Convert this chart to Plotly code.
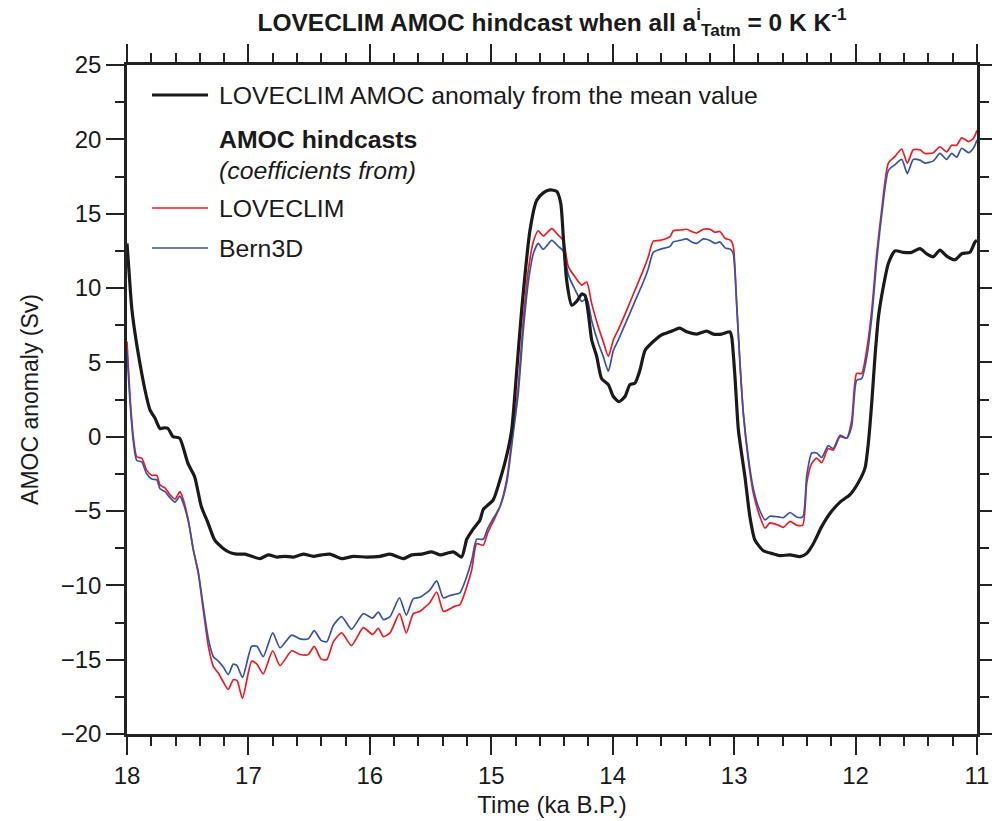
import plotly.graph_objects as go

# ---------------- data ----------------
# LOVECLIM AMOC anomaly from the mean value (black)
t_model = [18.0, 17.99, 17.962, 17.934, 17.893, 17.852, 17.811, 17.77, 17.728, 17.69, 17.662,
           17.621, 17.567, 17.498, 17.443, 17.388, 17.333, 17.278, 17.21, 17.15, 17.097,
           17.028, 16.973, 16.905, 16.836, 16.767, 16.7, 16.63, 16.548, 16.466, 16.397,
           16.328, 16.232, 16.136, 16.026, 15.916, 15.834, 15.725, 15.655, 15.573, 15.491,
           15.422, 15.313, 15.244, 15.202, 15.148, 15.093, 15.066, 14.984, 14.928, 14.88,
           14.832, 14.79, 14.75, 14.681, 14.626, 14.572, 14.517, 14.461, 14.428, 14.407,
           14.379, 14.338, 14.297, 14.255, 14.228, 14.201, 14.173, 14.132, 14.091, 14.036,
           13.995, 13.948, 13.899, 13.858, 13.817, 13.775, 13.734, 13.666, 13.597, 13.528,
           13.487, 13.446, 13.391, 13.308, 13.226, 13.172, 13.103, 13.034, 13.02, 12.993,
           12.965, 12.911, 12.87, 12.829, 12.76, 12.691, 12.622, 12.54, 12.458, 12.402,
           12.348, 12.279, 12.21, 12.128, 12.046, 11.978, 11.922, 11.895, 11.867, 11.84,
           11.811, 11.771, 11.73, 11.675, 11.606, 11.538, 11.47, 11.414, 11.36, 11.305,
           11.25, 11.182, 11.126, 11.058, 11.016, 11.0]
amoc_model = [13.0, 11.9, 8.75, 6.95, 4.9, 3.15, 1.8, 1.25, 0.55, 0.6, 0.55,
              0.0, -0.1, -1.8, -2.7, -4.7, -5.8, -6.95, -7.5, -7.8, -7.9,
              -7.9, -8.05, -8.2, -7.95, -8.1, -8.05, -8.1, -7.9, -8.05, -7.95,
              -7.9, -8.2, -8.05, -8.1, -8.05, -7.9, -8.2, -7.95, -7.9, -7.75,
              -7.95, -7.75, -8.1, -6.9, -6.2, -5.6, -4.9, -4.25, -2.9, -1.5,
              0.45, 4.5, 8.5, 13.9, 15.9, 16.4, 16.6, 16.5, 15.7, 13.45,
              10.5, 8.85, 9.1, 9.6, 9.5, 8.3, 6.5, 5.4, 3.9, 3.5,
              2.7, 2.35, 2.7, 3.5, 3.6, 4.5, 5.8, 6.4, 6.85, 7.05,
              7.2, 7.3, 7.05, 6.9, 7.1, 6.9, 6.9, 7.05, 6.7, 4.0,
              0.45, -2.7, -5.4, -6.95, -7.67, -7.85, -8.0, -7.95, -8.07, -7.85,
              -7.2, -6.05, -5.15, -4.4, -3.9, -3.1, -2.1, -0.45, 2.25, 5.4,
              8.1, 10.1, 11.65, 12.5, 12.4, 12.4, 12.65, 12.3, 12.1, 12.55,
              12.15, 11.9, 12.3, 12.4, 13.1, 13.2]

# AMOC hindcasts (coefficients from LOVECLIM: red, Bern3D: blue)
t_hind = [18.0, 17.975, 17.948, 17.92, 17.879, 17.838, 17.797, 17.755, 17.728, 17.687,
          17.646, 17.605, 17.564, 17.536, 17.495, 17.454, 17.413, 17.372, 17.33, 17.289,
          17.248, 17.207, 17.166, 17.125, 17.094, 17.049, 16.973, 16.93, 16.878, 16.8,
          16.74, 16.644, 16.575, 16.507, 16.458, 16.402, 16.355, 16.301, 16.232, 16.151,
          16.054, 15.978, 15.93, 15.889, 15.834, 15.756, 15.7, 15.642, 15.587, 15.505,
          15.449, 15.395, 15.346, 15.299, 15.258, 15.202, 15.161, 15.12, 15.066, 15.031,
          14.984, 14.928, 14.873, 14.818, 14.778, 14.736, 14.695, 14.654, 14.613, 14.572,
          14.502, 14.448, 14.407, 14.366, 14.311, 14.255, 14.214, 14.173, 14.119, 14.078,
          14.036, 13.995, 13.954, 13.885, 13.817, 13.748, 13.707, 13.666, 13.611, 13.528,
          13.501, 13.446, 13.391, 13.35, 13.308, 13.254, 13.199, 13.158, 13.117, 13.075,
          13.028, 13.007, 12.979, 12.951, 12.924, 12.883, 12.842, 12.787, 12.745, 12.706,
          12.636, 12.595, 12.54, 12.485, 12.435, 12.402, 12.361, 12.32, 12.279, 12.225,
          12.184, 12.128, 12.073, 12.032, 11.991, 11.95, 11.909, 11.867, 11.826, 11.785,
          11.73, 11.675, 11.62, 11.574, 11.525, 11.47, 11.428, 11.36, 11.305, 11.25,
          11.208, 11.167, 11.126, 11.07, 11.03, 11.0]
amoc_loveclim = [6.4, 2.7, 0.0, -1.35, -1.45, -2.25, -2.6, -2.6, -3.25, -3.45,
                 -3.9, -4.2, -3.7, -4.25, -5.6, -7.6, -9.2, -11.65, -14.1, -15.45,
                 -15.9, -16.5, -17.0, -16.35, -16.4, -17.6, -15.1, -15.3, -15.95, -14.4,
                 -15.4, -14.4, -14.65, -14.65, -14.1, -14.95, -15.0, -13.8, -13.2, -14.05,
                 -12.85, -13.3, -12.9, -13.45, -13.2, -11.9, -13.2, -11.9, -11.75, -11.15,
                 -10.45, -11.75, -11.6, -11.4, -11.3, -10.1, -8.95, -7.2, -7.3, -6.5,
                 -5.7, -4.7, -2.9, 0.67, 3.35, 7.85, 11.2, 13.1, 13.85, 13.5,
                 14.0, 13.55, 13.2, 11.45, 10.75, 10.2, 10.4, 8.95, 7.4, 6.4,
                 5.4, 6.5, 7.2, 8.5, 9.85, 11.2, 12.1, 13.15, 13.2, 13.45,
                 13.85, 13.9, 13.95, 13.8, 13.7, 13.95, 13.95, 13.75, 13.8, 13.35,
                 13.2, 12.8, 9.0, 4.8, 1.5, -1.6, -3.8, -5.4, -6.15, -5.8,
                 -5.95, -6.1, -5.7, -5.95, -5.95, -3.1, -1.8, -1.45, -1.75, -0.8,
                 -0.9, 0.0, -0.1, 1.1, 4.25, 4.25, 5.8, 8.5, 12.3, 15.25,
                 18.4, 18.85, 19.35, 18.4, 19.3, 19.3, 19.05, 19.1, 19.5, 19.15,
                 19.6, 19.6, 20.1, 19.85, 20.05, 20.6]
amoc_bern3d = [5.7, 2.3, -0.3, -1.6, -1.7, -2.5, -2.85, -2.9, -3.5, -3.7,
               -4.1, -4.4, -4.0, -4.5, -5.7, -7.6, -9.1, -11.4, -13.6, -14.8,
               -15.1, -15.5, -16.0, -15.3, -15.4, -16.2, -14.1, -14.1, -14.8, -13.2,
               -14.2, -13.35, -13.6, -13.6, -13.05, -13.7, -13.8, -12.7, -12.1, -12.95,
               -11.9, -12.2, -11.8, -12.3, -12.1, -10.85, -12.0, -10.9, -10.8, -10.3,
               -9.7, -10.85, -10.7, -10.6, -10.5, -9.4, -8.3, -6.9, -6.9, -6.2,
               -5.5, -4.7, -3.1, 0.3, 2.9, 7.2, 10.4, 12.3, 13.0, 12.6,
               13.2, 12.8, 12.5, 10.9, 9.9, 9.1, 9.3, 7.8, 6.3, 5.4,
               4.4, 5.8, 6.5, 7.8, 9.1, 10.4, 11.3, 12.4, 12.6, 12.8,
               13.1, 13.2, 13.3, 13.1, 13.0, 13.3, 13.2, 13.0, 13.1, 12.7,
               12.6, 12.3, 8.8, 4.8, 1.6, -1.4, -3.5, -5.0, -5.6, -5.35,
               -5.4, -5.45, -5.1, -5.4, -5.4, -2.6, -1.1, -1.1, -1.4, -0.6,
               -0.8, 0.1, -0.1, 0.7, 3.8, 3.9, 5.3, 8.0, 11.8, 14.9,
               17.9, 18.3, 18.65, 17.7, 18.65, 18.6, 18.4, 18.55, 19.05, 18.65,
               19.05, 18.8, 19.4, 19.1, 19.4, 19.95]

x_ticks = [18, 17, 16, 15, 14, 13, 12, 11]
y_ticks = [-20, -15, -10, -5, 0, 5, 10, 15, 20, 25]

# ---------------- figure ----------------
FONT = "Liberation Sans, Arial, Helvetica, sans-serif"
W, H = 992, 821
L, R, T, B = 127, 15, 65, 87
pw = W - L - R
ph = H - T - B

def px(xpix):                 # screen x pixel -> paper x
    return (xpix - L) / pw

def py(ypix):                 # screen y pixel -> paper y
    return (H - B - ypix) / ph

fig = go.Figure()
fig.add_trace(go.Scatter(x=t_hind, y=amoc_loveclim, mode="lines",
                         line=dict(color="#ec1c24", width=1.7, shape="spline", smoothing=0.6),
                         name="LOVECLIM"))
fig.add_trace(go.Scatter(x=t_hind, y=amoc_bern3d, mode="lines",
                         line=dict(color="#3953a4", width=1.7, shape="spline", smoothing=0.6),
                         name="Bern3D"))
fig.add_trace(go.Scatter(x=t_model, y=amoc_model, mode="lines",
                         line=dict(color="#1a1a1a", width=3.2, shape="spline", smoothing=0.6),
                         name="LOVECLIM AMOC anomaly from the mean value"))

axis_common = dict(showgrid=False, zeroline=False, showline=True, linecolor="#222222",
                   linewidth=2.5, ticks="outside", ticklen=18, tickwidth=2, tickcolor="#222222",
                   mirror="ticks", automargin=False,
                   tickfont=dict(family=FONT, size=24, color="#1a1a1a"))

fig.update_xaxes(range=[18, 11], tickvals=x_ticks, ticktext=[str(v) for v in x_ticks],
                 minor=dict(dtick=0.2, ticklen=9, tickwidth=1.5, tickcolor="#222222", ticks="outside"),
                 title=dict(text="Time (ka B.P.)", font=dict(family=FONT, size=24, color="#1a1a1a"),
                            standoff=9),
                 **axis_common)
fig.update_yaxes(range=[-20, 25], tickvals=y_ticks,
                 minor=dict(dtick=2.5, ticklen=9, tickwidth=1.5, tickcolor="#222222", ticks="outside"),
                 title=dict(text="AMOC anomaly (Sv)", font=dict(family=FONT, size=23, color="#1a1a1a"),
                            standoff=16),
                 **axis_common)

# legend drawn in the upper left of the plot
leg_items = [(95, "#1a1a1a", 3.2), (208, "#ec1c24", 1.7), (248, "#3953a4", 1.7)]
for yy, col, wd in leg_items:
    fig.add_shape(type="line", xref="paper", yref="paper", x0=px(152), x1=px(208),
                  y0=py(yy), y1=py(yy), line=dict(color=col, width=wd))

leg_text = [(96, "LOVECLIM AMOC anomaly from the mean value"),
            (139, "<b>AMOC hindcasts</b>"),
            (170, "<i>(coefficients from)</i>"),
            (208, "LOVECLIM"),
            (248, "Bern3D")]
for yy, txt in leg_text:
    fig.add_annotation(xref="paper", yref="paper", x=px(217), y=py(yy), text=txt,
                       showarrow=False, xanchor="left", yanchor="middle",
                       font=dict(family=FONT, size=24.8, color="#1a1a1a"))

fig.update_layout(
    width=W, height=H,
    margin=dict(l=L, r=R, t=T, b=B),
    paper_bgcolor="white", plot_bgcolor="white",
    showlegend=False,
    title=dict(text="<b>LOVECLIM AMOC hindcast when all a<sup>i</sup><sub>Tatm</sub> = 0 K K<sup>-1</sup></b>",
               x=552 / W, xanchor="center", y=1 - 22 / H, yanchor="middle",
               font=dict(family=FONT, size=24.5, color="#1a1a1a")),
)

fig.write_html("out.html",
               config={"displayModeBar": False, "responsive": False},
               post_script="document.body.style.margin='0px';document.body.style.overflow='hidden';")
